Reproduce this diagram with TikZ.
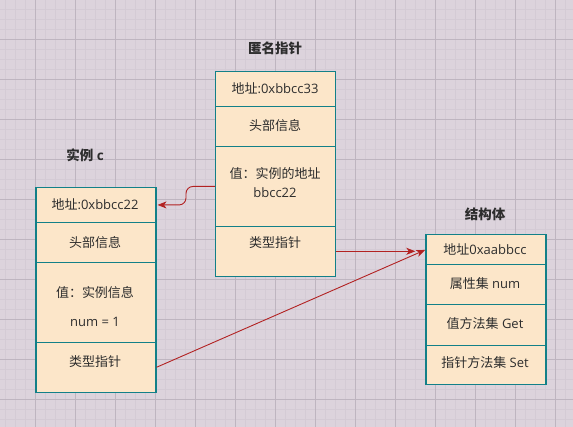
\documentclass[tikz,border=0pt]{standalone}
\usepackage{fontspec}
\setmainfont{Open Sans}
\newfontfamily\cjk{Noto Sans CJK SC}
\usetikzlibrary{arrows.meta}
\definecolor{bg}{RGB}{220,211,220}
\definecolor{gmajor}{RGB}{190,181,192}
\definecolor{gminor}{RGB}{212,203,213}
\definecolor{boxfill}{RGB}{252,230,201}
\definecolor{boxline}{RGB}{18,128,136}
\definecolor{arr}{RGB}{178,34,34}
\definecolor{txt}{RGB}{45,45,45}
\begin{document}
\begin{tikzpicture}[x=1pt,y=-1pt,
  row/.style={draw=boxline, fill=boxfill, line width=1.2pt, minimum width=120pt, inner sep=0pt, anchor=north west},
  lbl/.style={font=\fontsize{13}{16}\selectfont, text=txt, inner sep=0pt},
  ttl/.style={font=\fontsize{13.5}{16}\selectfont\bfseries, text=txt, inner sep=0pt},
  conn/.style={draw=arr, line width=0.9pt, -{Stealth[length=9pt,width=7pt,inset=2.5pt]}}]
\useasboundingbox (0,0) rectangle (573,427);
% background grid
\fill[bg] (0,0) rectangle (573,427);
\foreach \x in {5.7,15.7,...,573} \draw[gminor, line width=1pt] (\x,0) -- (\x,427);
\foreach \y in {9.3,19.3,...,427} \draw[gminor, line width=1pt] (0,\y) -- (573,\y);
\foreach \x in {35.7,75.7,...,573} \draw[gmajor, line width=1pt] (\x,0) -- (\x,427);
\foreach \y in {39.3,79.3,...,427} \draw[gmajor, line width=1pt] (0,\y) -- (573,\y);

% anonymous pointer
\node[ttl] (ta) at (275,48) {\cjk 匿名指针};
\node[row, minimum height=35pt] (a1) at (215,70.7) {};
\node[row, minimum height=40.3pt] (a2) at (215,105.7) {};
\node[row, minimum height=79.7pt] (a3) at (215,146) {};
\node[row, minimum height=50pt] (a4) at (215,225.7) {};
\node[lbl] (la1) at (275,88.3) {{\cjk 地址}:0xbbcc33};
\node[lbl] (la2) at (275,126) {\cjk 头部信息};
\node[lbl] (la3a) at (275,174) {\cjk 值：实例的地址};
\node[lbl] (la3b) at (275,193) {bbcc22};
\node[lbl] (la4) at (275,243) {\cjk 类型指针};

% instance c
\node[ttl] (tc) at (85,155) {{\cjk 实例} c};
\node[row, minimum height=34.7pt] (c1) at (35.3,187) {};
\node[row, minimum height=40.3pt] (c2) at (35.3,221.7) {};
\node[row, minimum height=79.7pt] (c3) at (35.3,262) {};
\node[row, minimum height=50pt] (c4) at (35.3,341.7) {};
\node[lbl] (lc1) at (95,204) {{\cjk 地址}:0xbbcc22};
\node[lbl] (lc2) at (95,242.3) {\cjk 头部信息};
\node[lbl] (lc3a) at (95,293) {\cjk 值：实例信息};
\node[lbl] (lc3b) at (95,322) {num = 1};
\node[lbl] (lc4) at (95,361.7) {\cjk 类型指针};

% struct
\node[ttl] (ts) at (485,214) {\cjk 结构体};
\node[row, minimum height=30pt] (s1) at (425.3,234.3) {};
\node[row, minimum height=40pt] (s2) at (425.3,264.3) {};
\node[row, minimum height=40.4pt] (s3) at (425.3,304.3) {};
\node[row, minimum height=39.3pt] (s4) at (425.3,344.7) {};
\node[lbl] (ls1) at (485,249) {{\cjk 地址}0xaabbcc};
\node[lbl] (ls2) at (485,283.3) {{\cjk 属性集} num};
\node[lbl] (ls3) at (485,323.3) {{\cjk 值方法集} Get};
\node[lbl] (ls4) at (485,363) {{\cjk 指针方法集} Set};

% connectors
\draw[conn, rounded corners=7pt, shorten >=1pt] (a3.west) -- ([xshift=-29pt]a3.west) |- (c1.east);
\draw[conn, shorten >=10pt] (a4.east) -- (a4.east -| s1.west);
\draw[conn] (c4.east) -- (s1.west);
\end{tikzpicture}
\end{document}
